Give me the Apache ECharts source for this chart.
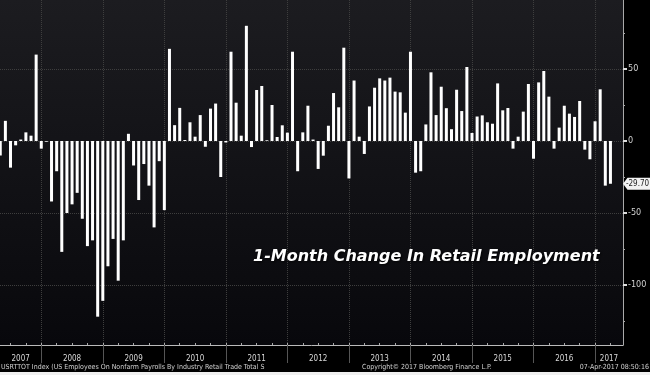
<!DOCTYPE html>
<html><head><meta charset="utf-8">
<script src="https://cdn.jsdelivr.net/npm/echarts@6/dist/echarts.min.js"></script>
<style>html,body{margin:0;padding:0;background:#f0f0f0;}#c{width:650px;height:372px;background:#000;}</style>
</head><body><div id="c"></div><script>
// Monthly change in US retail employment (thousands), first month = Apr 2007
const startYear = 2007, startMonth = 4;
const v2007 = [-10, 14, -18.5, -3, 1, 6, 3.7, 60, -5.3];
const v2008 = [-0.5, -42, -21, -77, -50, -44, -36, -54, -73, -69, -122, -111];
const v2009 = [-87, -68, -97, -69, 5, -17, -41, -16, -31, -60, -14, -48];
const v2010 = [64, 11, 23, 0.7, 13, 3, 18, -4, 22.5, 26, -25, -1];
const v2011 = [62, 26.6, 3.7, 80, -4.2, 35.4, 38.2, 0.5, 25, 2.8, 10.9, 5.8];
const v2012 = [62, -21, 6, 24.5, 1, -19.4, -10.2, 10.6, 33.3, 23.4, 64.8, -26];
const v2013 = [42, 3, -9, 24, 37, 43.5, 42, 44, 34.3, 33.8, 19.7, 62];
const v2014 = [-22, -21, 11.5, 47.7, 18, 37.7, 22.8, 8.2, 35.6, 20.8, 51.4, 5.6];
const v2015 = [17, 17.8, 13, 12, 40, 21.3, 22.9, -5.3, 3, 20.4, 39.6, -12.3];
const v2016 = [40.7, 48.6, 30.8, -5.3, 9.3, 24.5, 19, 16.7, 27.8, -6, -12.7, 13.7];
const v2017 = [35.9, -31, -29.7];
const yearLabels = ['2007','2008','2009','2010','2011','2012','2013','2014','2015','2016','2017'];
const yMajorTicks = [50, 0, -50, -100];
const yMinorTicks = [75, 25, -25, -75, -125];
const lastValueLabel = '-29.70';
const titleText = '1-Month Change In Retail Employment';
const footerLeft = 'USRTTOT Index (US Employees On Nonfarm Payrolls By Industry Retail Trade Total S';
const footerMid = 'Copyright\u00a9 2017 Bloomberg Finance L.P.';
const footerRight = '07-Apr-2017 08:50:16';

const values = [].concat(v2007, v2008, v2009, v2010, v2011, v2012, v2013, v2014, v2015, v2016, v2017);
const months = values.map((v, i) => {
  const m0 = startMonth - 1 + i;
  return {year: startYear + Math.floor(m0 / 12), month: (m0 % 12) + 1};
});
const barData = values.map((v, i) => [i, v]);
const xMin = -0.05, xMax = 121.45;
const yMin = -141.67, yMax = 97.92;
const yearEnds = [], quarterEnds = [];
months.forEach((m, i) => {
  if (m.month === 12) yearEnds.push(i);
  if (m.month % 3 === 0) quarterEnds.push(i);
});
const labelPos = yearLabels.map((y, k) => {
  const lo = k === 0 ? xMin : yearEnds[k - 1];
  const hi = k < yearEnds.length ? yearEnds[k] : xMax;
  return (lo + hi) / 2;
});
const narrow = "'Liberation Sans Narrow','DejaVu Sans Condensed','Liberation Sans',sans-serif";
const footStyle = {color: '#d0d0d0', fontSize: 7, fontWeight: 'normal', fontFamily: narrow};

const chart = echarts.init(document.getElementById('c'), null, {renderer: 'canvas'});
chart.setOption({
  backgroundColor: '#000',
  animation: false,
  title: [
    {text: titleText, left: 253, top: 249, padding: 0,
     textStyle: {color: '#fff', fontSize: 16, fontWeight: 'bold', fontStyle: 'italic',
       fontFamily: "'DejaVu Sans',Verdana,sans-serif",
       textShadowColor: 'rgba(0,0,0,0.9)', textShadowBlur: 3, textShadowOffsetX: 1, textShadowOffsetY: 1}},
    {text: footerLeft, left: 1, bottom: 1, padding: 0, textStyle: footStyle},
    {text: footerMid, left: 362, bottom: 1, padding: 0, textStyle: footStyle},
    {text: footerRight, right: 1, bottom: 1, padding: 0, textStyle: footStyle}
  ],
  grid: {left: 0, right: 27, top: 0, bottom: 27, show: true, borderWidth: 0,
    backgroundColor: new echarts.graphic.LinearGradient(0, 0, 0, 1, [
      {offset: 0, color: '#1c1c20'}, {offset: 1, color: '#08080c'}])},
  xAxis: [
    {type: 'value', min: xMin, max: xMax, position: 'bottom',
     axisLine: {show: true, onZero: false, lineStyle: {color: '#bbb', width: 1}},
     axisTick: {show: true, customValues: yearEnds, length: 18, lineStyle: {color: '#555'}},
     splitLine: {show: true, lineStyle: {color: '#3e3e3e', type: 'dotted', width: 1}},
     axisLabel: {show: true, customValues: labelPos, margin: 10, color: '#d8d8d8', fontSize: 8,
       fontFamily: narrow,
       formatter: (val) => {
         let k = 0; let best = 1e9;
         labelPos.forEach((p, j) => { if (Math.abs(p - val) < best) { best = Math.abs(p - val); k = j; } });
         return yearLabels[k];
       }}},
    {type: 'value', min: xMin, max: xMax, position: 'bottom',
     axisLine: {show: false, onZero: false}, splitLine: {show: false}, axisLabel: {show: false},
     axisTick: {show: true, customValues: quarterEnds, inside: true, length: 2, lineStyle: {color: '#aaa'}}}
  ],
  yAxis: [
    {type: 'value', min: yMin, max: yMax, position: 'right',
     axisLine: {show: true, onZero: false, lineStyle: {color: '#aaa', width: 1}},
     axisTick: {show: true, customValues: yMajorTicks, length: 4, lineStyle: {color: '#ddd', width: 2}},
     splitLine: {show: true, lineStyle: {color: '#3e3e3e', type: 'dotted', width: 1}},
     axisLabel: {show: true, customValues: yMajorTicks, margin: 5, color: '#d0d0d0', fontSize: 9,
       fontFamily: narrow}},
    {type: 'value', min: yMin, max: yMax, position: 'right',
     axisLine: {show: false, onZero: false}, splitLine: {show: false}, axisLabel: {show: false},
     axisTick: {show: true, customValues: yMinorTicks, length: 2, lineStyle: {color: '#aaa'}}}
  ],
  series: [{
    type: 'bar', xAxisIndex: 0, yAxisIndex: 0, data: barData, barWidth: 3,
    itemStyle: {color: '#fff'},
    markPoint: {
      symbol: 'path://M0,6 L5,0 L30,0 L30,12 L5,12 Z', symbolSize: [27, 12],
      symbolOffset: ['50%', 0], symbolKeepAspect: false,
      itemStyle: {color: '#f2f2f2'},
      label: {show: true, formatter: lastValueLabel, color: '#222', fontSize: 8,
        fontFamily: narrow, position: 'inside', offset: [1, 0]},
      data: [{coord: [xMax, values[values.length - 1]]}]
    }
  }]
});
</script></body></html>
